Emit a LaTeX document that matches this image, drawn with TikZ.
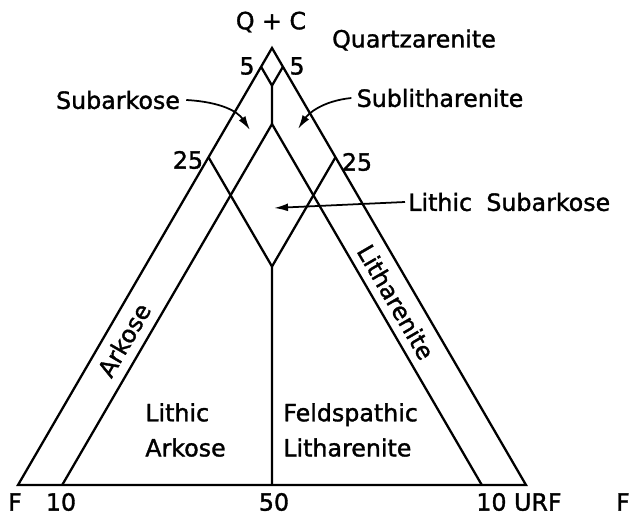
\documentclass[tikz,border=0pt]{standalone}
\usepackage{fontspec}
\setmainfont{DejaVu Sans}
\newfontfamily\lettering{DejaVu Sans}[FakeBold=1.4]
\usetikzlibrary{calc,arrows.meta}

\begin{document}
\begin{tikzpicture}[x=0.2mm, y=-0.2mm,
    edge/.style={line width=1.3pt, line join=miter},
    lab/.style={font=\lettering\fontsize{13.5}{20}\selectfont, inner sep=0pt},
    pointer/.style={line width=1pt, -{Latex[length=8pt, width=4.5pt]}}]
  \useasboundingbox (0,0) rectangle (631,519);

  % Poles: Q+C on top, F left, URF right
  \coordinate (A) at (272,48);
  \coordinate (L) at (18,485);
  \coordinate (R) at (526,485);

  % Field limits (5, 10, 25, 50 per cent)
  \coordinate (q5l)  at (barycentric cs:A=0.957,L=0.043);
  \coordinate (q5r)  at (barycentric cs:A=0.957,R=0.043);
  \coordinate (q5)   at (barycentric cs:A=0.914,L=0.043,R=0.043);
  \coordinate (f10)  at (barycentric cs:A=0.826,L=0.087,R=0.087);
  \coordinate (f10l) at (barycentric cs:L=0.913,R=0.087);
  \coordinate (f10r) at (barycentric cs:L=0.087,R=0.913);
  \coordinate (q25l) at (barycentric cs:A=0.75,L=0.25);
  \coordinate (q25r) at (barycentric cs:A=0.75,R=0.25);
  \coordinate (q25)  at (barycentric cs:A=0.5,L=0.25,R=0.25);
  \coordinate (f50)  at (barycentric cs:L=0.5,R=0.5);

  \draw[edge] (A) -- (L) -- (R) -- cycle;
  \draw[edge] (q5l) -- (q5) -- (q5r);
  \draw[edge] (q5) -- (f10);
  \draw[edge] (f10l) -- (f10) -- (f10r);
  \draw[edge] (q25l) -- (q25) -- (q25r);
  \draw[edge] (q25) -- (f50);

  % Pole and tick labels
  \node[lab] (qc) at (271,22) {Q + C};
  \node[lab] (fivel) at (247,66) {5};
  \node[lab] (fiver) at (297,66) {5};
  \node[lab] (tfl) at (188,160) {25};
  \node[lab] (tfr) at (357,162) {25};
  \node[lab] (fpole) at (15,502) {F};
  \node[lab] (tenl) at (61,502) {10};
  \node[lab] (fifty) at (274,502) {50};
  \node[lab] (tenr) at (519,502) {10 URF};
  \node[lab] (fout) at (623,502) {F};

  % Rock names
  \node[lab] (quartz) at (414,40) {Quartzarenite};
  \node[lab] (subark) at (118,100) {Subarkose};
  \node[lab] (sublith) at (440,98) {Sublitharenite};
  \node[lab, anchor=west] (lithsub) at (408,202) {Lithic\hspace{0.6em}Subarkose};
  \node[lab, rotate=59.8] (ark) at (124,340) {Arkose};
  \node[lab, rotate=-59.8] (lith) at (396,302) {Litharenite};
  \node[lab, align=left, anchor=west] (lark) at (145,430) {Lithic\\Arkose};
  \node[lab, align=left, anchor=west] (flith) at (283,430) {Feldspathic\\Litharenite};

  % Pointers into the small fields
  \coordinate (subarktip) at (250,130);
  \coordinate (sublithtip) at (298,129);
  \coordinate (lithsubtip) at (274,208);
  \draw[pointer] ([xshift=1.2mm]subark.east) .. controls (222,102) and (238,112) .. (subarktip);
  \draw[pointer] ([xshift=-1mm]sublith.west) .. controls (322,101) and (308,114) .. (sublithtip);
  \draw[pointer] ([xshift=-0.6mm]lithsub.west) -- (lithsubtip);
\end{tikzpicture}
\end{document}
